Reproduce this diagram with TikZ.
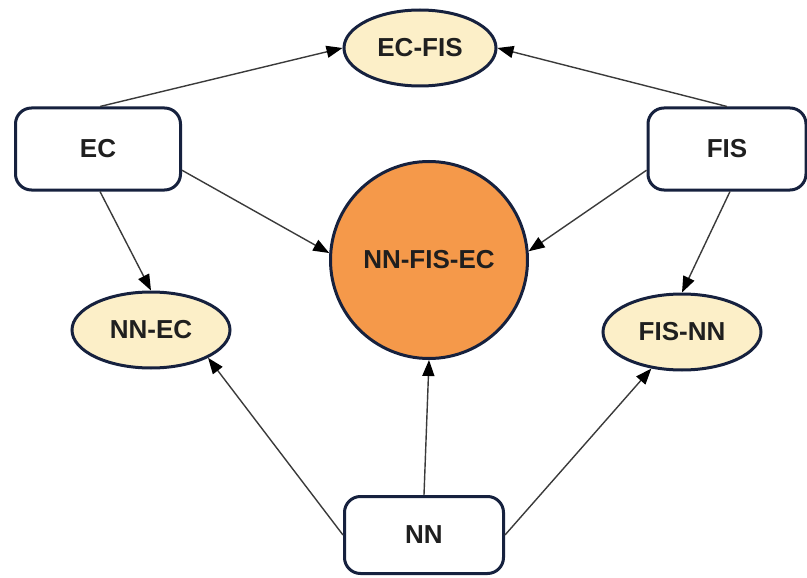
\documentclass[tikz,border=0pt]{standalone}
\usepackage{fontspec}
\setmainfont{Liberation Sans}
\usetikzlibrary{arrows.meta,calc,shapes.geometric}

\definecolor{bordernavy}{HTML}{16213E}
\definecolor{creamfill}{HTML}{FCEFC8}
\definecolor{hubfill}{HTML}{F5994A}
\definecolor{linkgray}{HTML}{3A3A3A}

\begin{document}
\begin{tikzpicture}[x=1pt,y=-1pt,
  label/.style={font=\fontsize{26}{30}\selectfont\bfseries, text=black!88},
  srcbox/.style={label, draw=bordernavy, line width=3pt, rounded corners=16pt,
                 fill=white, minimum width=165pt, minimum height=82pt},
  pairell/.style={label, ellipse, draw=bordernavy, line width=3pt,
                  fill=creamfill, inner sep=0pt, minimum width=158pt, minimum height=76pt},
  hubcirc/.style={label, circle, draw=bordernavy, line width=3pt,
                  fill=hubfill, inner sep=0pt, minimum size=197pt},
  link/.style={draw=linkgray, line width=1.4pt,
               -{Triangle[length=16pt,width=12pt,fill=black,color=black]}}
]
\useasboundingbox (0,0) rectangle (807,578);

% source blocks
\node[srcbox] (ec)  at (98,149)  {EC};
\node[srcbox, minimum width=158pt] (fis) at (727,149) {FIS};
\node[srcbox, minimum width=159pt, minimum height=77pt] (nn) at (424,535) {NN};

% hybrid combinations
\node[pairell, minimum width=152pt] (ecfis) at (420,48) {EC-FIS};
\node[pairell] (nnec)  at (151,330) {NN-EC};
\node[pairell] (fisnn) at (682,332) {FIS-NN};
\node[hubcirc] (hub) at (429,260) {NN-FIS-EC};

% connectors
\draw[link] ([xshift=2pt]ec.north) -- (ecfis.west);
\draw[link] (fis.north) -- (ecfis.east);
\draw[link] ($(ec.north east)!0.75!(ec.south east)$) -- (hub.176);
\draw[link] ($(fis.north west)!0.75!(fis.south west)$) -- (hub.5);
\draw[link] ([xshift=2pt]ec.south) -- (nnec.north);
\draw[link] ([xshift=3pt]fis.south) -- (fisnn.north);
\draw[link] (nn.west) -- (nnec.-26);
\draw[link] (nn.north) -- (hub.south);
\draw[link] (nn.east) -- (fisnn.230);
\end{tikzpicture}
\end{document}
